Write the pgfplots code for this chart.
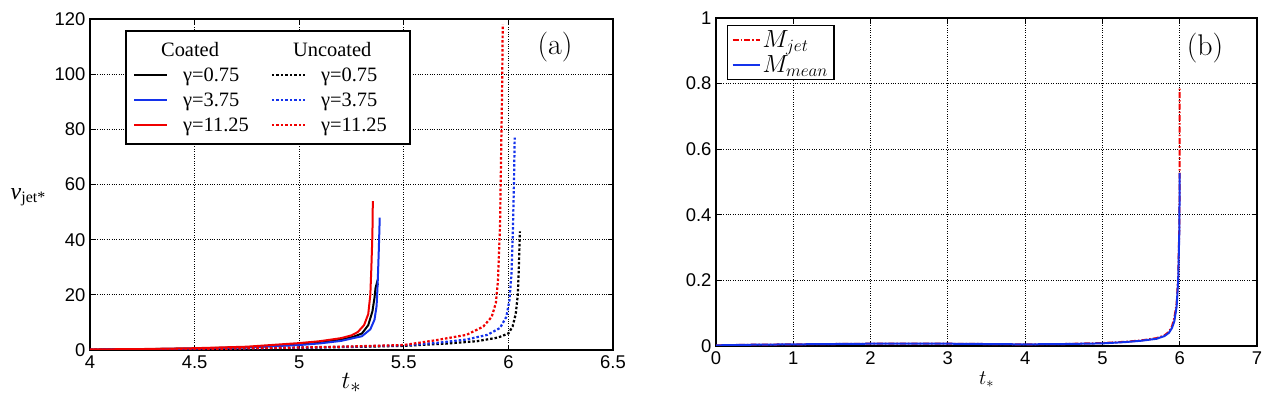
\documentclass[border=0pt]{standalone}
\usepackage{pgfplots}
\pgfplotsset{compat=1.18}
\usepackage{fontspec}
\newfontfamily\arial{Liberation Sans}
\newfontfamily\tnr{Liberation Serif}
\definecolor{mblue}{RGB}{20,50,235}
\definecolor{mred}{RGB}{240,0,0}
\begin{document}
\begin{tikzpicture}
\pgfplotsset{
  mystyle/.style={
    scale only axis,
    axis line style={line width=1.6bp},
    tick align=inside,
    major tick length=5bp,
    tick style={line width=1bp, black},
    grid=major,
    grid style={black, dotted, line width=0.8bp},
    tick label style={font=\fontsize{18.5}{18.5}\selectfont\arial},
    /pgf/number format/assume math mode=true,
    xticklabel style={yshift=-2bp},
    yticklabel style={xshift=-1bp},
    legend cell align=left,
  },
  dotline/.style={dash pattern=on 2.5bp off 2bp},
}
% ---------------- panel (a)
\begin{axis}[mystyle,
  at={(0,0)}, anchor=south west, width=523bp, height=331bp,
  xmin=4, xmax=6.5, ymin=0, ymax=120,
  xtick={4,4.5,5,5.5,6,6.5}, ytick={0,20,40,60,80,100,120},
  xlabel={$t_*$},
  every axis x label/.style={at={(axis description cs:0.5,0)}, anchor=center, yshift=-33bp, font=\fontsize{30}{30}\selectfont},
  ylabel={{\tnr\itshape v}\raisebox{-0.35ex}{\fontsize{16}{16}\selectfont\tnr jet*}},
  every axis y label/.style={at={(axis description cs:0,0.462)}, anchor=center, xshift=-62bp, font=\fontsize{24}{24}\selectfont},
  legend columns=2,
  legend image code/.code={\draw[#1] (0bp,0bp) -- (33bp,0bp);},
  legend style={at={(axis description cs:0.067,0.967)}, anchor=north west,
    draw=black, line width=2.2bp, font=\fontsize{20.5}{20.5}\selectfont\tnr,
    inner xsep=7bp, inner ysep=9bp, row sep=6bp,
    /tikz/every odd column/.append style={column sep=13bp},
    /tikz/every even column/.append style={column sep=20bp}},
]
\addlegendimage{empty legend}\addlegendentry{\hspace*{-22bp}Coated}
\addlegendimage{empty legend}\addlegendentry{\hspace*{-28bp}Uncoated}
\addplot[black, line width=2bp] coordinates {
(4.0,0.15)(4.25,0.3)(4.5,0.55)(4.75,1.0)(5.0,2.0)(5.1,2.7)(5.2,3.7)(5.26,4.8)(5.3,6)(5.33,9)(5.35,14)(5.36,19)(5.365,22.5)(5.372,24.5)(5.376,23.5)};
\addlegendentry{γ=0.75}
\addplot[black, dotline, line width=2.2bp] coordinates {
(4.0,0.05)(4.5,0.3)(5.0,0.8)(5.25,1.1)(5.5,1.5)(5.7,2.3)(5.85,3.2)(5.95,4.5)(6.0,6)(6.02,8.5)(6.035,13)(6.045,20)(6.05,30)(6.055,43)};
\addlegendentry{γ=0.75}
\addplot[mblue, line width=2bp] coordinates {
(4.0,0.15)(4.25,0.28)(4.5,0.5)(4.75,0.95)(5.0,1.8)(5.1,2.4)(5.2,3.3)(5.3,5)(5.34,7.5)(5.36,11)(5.37,16)(5.375,24)(5.38,35)(5.385,48)};
\addlegendentry{γ=3.75}
\addplot[mblue, dotline, line width=2.2bp] coordinates {
(4.0,0.05)(4.5,0.3)(5.0,0.85)(5.25,1.2)(5.5,1.7)(5.65,2.5)(5.8,3.8)(5.9,5.5)(5.96,8)(5.99,12)(6.005,18)(6.015,28)(6.022,45)(6.027,62)(6.03,77)};
\addlegendentry{γ=3.75}
\addplot[mred, line width=2bp] coordinates {
(4.0,0.2)(4.25,0.35)(4.5,0.65)(4.75,1.2)(5.0,2.5)(5.1,3.2)(5.2,4.3)(5.25,5.3)(5.28,6.5)(5.31,9)(5.33,13)(5.34,20)(5.345,30)(5.35,42)(5.352,54)};
\addlegendentry{γ=11.25}
\addplot[mred, dotline, line width=2.2bp] coordinates {
(4.0,0.05)(4.5,0.3)(5.0,0.9)(5.25,1.3)(5.5,1.8)(5.65,3.5)(5.8,5.5)(5.88,8.5)(5.92,12)(5.94,17)(5.95,25)(5.96,45)(5.965,70)(5.97,95)(5.973,118)};
\addlegendentry{γ=11.25\hspace*{14bp}}
\node[font=\fontsize{30}{30}\selectfont] at (axis description cs:0.889,0.915) {(a)};
\end{axis}
% ---------------- panel (b)
\begin{axis}[mystyle,
  at={(626bp,4bp)}, anchor=south west, width=541bp, height=328bp,
  xmin=0, xmax=7, ymin=0, ymax=1,
  xtick={0,1,2,3,4,5,6,7}, ytick={0,0.2,0.4,0.6,0.8,1},
  yticklabels={0,0.2,0.4,0.6,0.8,1},
  xlabel={$t_*$},
  every axis x label/.style={at={(axis description cs:0.5,0)}, anchor=center, yshift=-34bp, font=\fontsize{22}{22}\selectfont},
  legend image code/.code={\draw[#1] (0bp,0bp) -- (27bp,0bp);},
  legend style={at={(axis description cs:0.02,0.979)}, anchor=north west,
    draw=black, line width=1.5bp, font=\fontsize{23}{23}\selectfont,
    inner xsep=4bp, inner ysep=3bp, row sep=3bp},
]
\addplot[mred, line width=2bp, dash pattern=on 6bp off 2bp on 1.5bp off 2bp] coordinates {
(0,0.002)(0.5,0.004)(1,0.005)(2,0.007)(3,0.007)(4,0.005)(4.5,0.006)(5,0.009)(5.3,0.013)(5.5,0.017)(5.7,0.024)(5.8,0.032)(5.86,0.043)(5.9,0.06)(5.93,0.085)(5.96,0.13)(5.98,0.21)(5.995,0.36)(6.0,0.55)(6.0,0.79)};
\addlegendentry{$M_{jet}$}
\addplot[mblue, line width=2bp] coordinates {
(0,0.002)(0.5,0.004)(1,0.005)(2,0.007)(3,0.007)(4,0.005)(4.5,0.006)(5,0.008)(5.3,0.012)(5.5,0.016)(5.7,0.022)(5.8,0.03)(5.86,0.04)(5.9,0.055)(5.93,0.075)(5.96,0.12)(5.98,0.2)(5.995,0.35)(6.0,0.527)};
\addlegendentry{$M_{mean}$}
\node[font=\fontsize{30}{30}\selectfont] at (axis description cs:0.904,0.909) {(b)};
\end{axis}
\pgfresetboundingbox
\path (-90bp,-49bp) rectangle (1176bp,350bp);
\end{tikzpicture}
\end{document}
